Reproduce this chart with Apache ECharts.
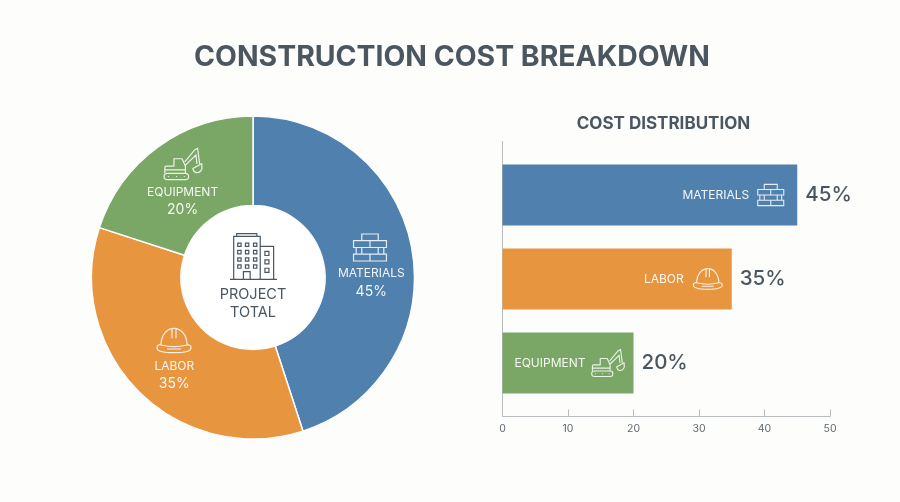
<!DOCTYPE html>
<html>
<head>
<meta charset="utf-8">
<style>
  html, body { margin: 0; padding: 0; background: #fdfdfb; }
  #chart { width: 900px; height: 502px; }
</style>
<script src="https://cdn.jsdelivr.net/npm/echarts@6/dist/echarts.min.js"></script>
</head>
<body>
<div id="chart"></div>
<script>
// Cost shares, in percent
const categories = ['MATERIALS', 'LABOR', 'EQUIPMENT'];
const shares = [45, 35, 20];
const sliceColors = ['#4f80ae', '#e8953f', '#7aa765'];
const axisTicks = [0, 10, 20, 30, 40, 50];

const INK = '#4a5660';
const LINE = '#b9bcbe';
const FONT = 'Inter, "Open Sans", sans-serif';
const ICON_STROKE = 'rgba(255,255,255,0.86)';

// Line icons, drawn as outlines in their own local units
function box(x, y, w, h) { return `M${x} ${y}H${x + w}V${y + h}H${x}Z`; }
function buildingPath() {
  let d = 'M20 8V0H80V8 M11 136V8H90V136 M90 38H130V136 M0 136H140 M40 136V113H60V136';
  [28, 50, 72, 93].forEach(y => [23, 46, 70].forEach(x => { d += ' ' + box(x, y, 10, 10); }));
  [53, 78, 103].forEach(y => { d += ' ' + box(104, y, 12, 12); });
  return d;
}
const ICONS = {
  MATERIALS: 'M25 0H75V20H25Z M0 20H100V41H0Z M50 20V41 M8 41V61 M92 41V61 M25 41V61 M75 41V61 M0 61H100V82H0Z M50 61V82',
  LABOR: 'M12 50C12 20 30 0 51 0C72 0 90 20 90 50 M0 58C0 50 8 48 12 50C35 56 67 56 90 50C96 48 102 52 102 58C102 66 92 73 51 73C10 73 0 66 0 58Z M45 3V30 M57 3V30 M30 62H72',
  EQUIPMENT: 'M10 76H64A9.5 9.5 0 0 1 64 95H10A9.5 9.5 0 0 1 10 76Z M12 85.5H15 M36 85.5H39 M59 85.5H62 M3 75V60Q3 55 8 55H30V33H54L64 55V75 M3 66H64 M62 42L92 6L100 2L106 48 M64 52L95 22L98 48 M86 62L112 48L113 62Q108 76 96 74Q88 72 86 62Z',
  BUILDING: buildingPath()
};

// Where each ring icon sits, and how big
const ringIconSpots = [
  { icon: 'MATERIALS', cx: 370, cy: 247.5, w: 33, h: 27, stroke: ICON_STROKE },
  { icon: 'LABOR', cx: 174, cy: 340.5, w: 34, h: 25, stroke: ICON_STROKE },
  { icon: 'EQUIPMENT', cx: 183, cy: 164, w: 38, h: 32, stroke: ICON_STROKE },
  { icon: 'BUILDING', cx: 253.5, cy: 256.5, w: 47, h: 46, stroke: INK }
];
// Nudges for the ring labels
const ringLabelOffsets = [[0, 8], [6, -3], [0, 4.5]];
// Bar icons, placed back from each bar's end
const barIconSpots = [
  { back: 26.5, w: 26, h: 22 },
  { back: 24, w: 29, h: 21 },
  { back: 25.5, w: 33, h: 27 }
];

function iconShape(icon, cx, cy, w, h, stroke, lineWidth) {
  return {
    type: 'path',
    shape: { pathData: ICONS[icon], x: cx - w / 2, y: cy - h / 2, width: w, height: h, layout: 'center' },
    style: { fill: 'none', stroke, lineWidth }
  };
}

const chart = echarts.init(document.getElementById('chart'), null, { renderer: 'canvas' });

chart.setOption({
  backgroundColor: '#fdfdfb',
  animation: false,
  title: [
    { text: 'CONSTRUCTION COST BREAKDOWN', left: 452, top: 43, padding: 0, textAlign: 'center',
      textStyle: { color: INK, fontFamily: FONT, fontSize: 28.4, fontWeight: 700 } },
    { text: 'COST DISTRIBUTION', left: 663.5, top: 115, padding: 0, textAlign: 'center',
      textStyle: { color: INK, fontFamily: FONT, fontSize: 17, fontWeight: 700 } },
    { text: 'PROJECT\nTOTAL', left: 253, top: 286, padding: 0, textAlign: 'center',
      textStyle: { color: INK, fontFamily: FONT, fontSize: 14.5, fontWeight: 400, lineHeight: 18 } }
  ],
  graphic: [
    { type: 'circle', z: 1, shape: { cx: 253, cy: 277.5, r: 72 }, style: { fill: '#ffffff' } }
  ],
  // Outer grid carries the visible axes; inner grid spaces the bars
  grid: [
    { left: 502.5, width: 327.5, top: 141.5, height: 275, containLabel: false },
    { left: 502.5, width: 327.5, top: 153, height: 252, containLabel: false }
  ],
  xAxis: [
    {
      gridIndex: 0, type: 'value', min: axisTicks[0], max: axisTicks[axisTicks.length - 1], interval: 10,
      splitLine: { show: false },
      axisLine: { show: true, lineStyle: { color: LINE, width: 1 } },
      axisTick: { show: true, inside: true, length: 7, lineStyle: { color: LINE, width: 1 } },
      axisLabel: { color: '#5f6a72', fontFamily: FONT, fontSize: 10.5, margin: 7 }
    },
    { gridIndex: 1, type: 'value', min: axisTicks[0], max: axisTicks[axisTicks.length - 1], show: false }
  ],
  yAxis: [
    {
      gridIndex: 0, type: 'value', min: 0, max: 1,
      splitLine: { show: false },
      axisLine: { show: true, lineStyle: { color: LINE, width: 1 } },
      axisTick: { show: false }, axisLabel: { show: false }
    },
    { gridIndex: 1, type: 'category', data: categories, inverse: true, show: false }
  ],
  series: [
    {
      type: 'pie',
      center: [253, 277.5],
      radius: [72, 161.5],
      startAngle: 90,
      clockwise: true,
      avoidLabelOverlap: false,
      silent: true,
      z: 2,
      itemStyle: { borderColor: '#fdfdfb', borderWidth: 1.5 },
      labelLine: { show: false },
      label: {
        show: true,
        position: 'inside',
        formatter: p => `{gap|}\n{name|${p.name}}\n{pct|${p.value}%}`,
        rich: {
          gap: { height: 32, lineHeight: 32, fontSize: 1 },
          name: { color: 'rgba(255,255,255,0.92)', fontFamily: FONT, fontSize: 12, lineHeight: 18 },
          pct: { color: 'rgba(255,255,255,0.92)', fontFamily: FONT, fontSize: 14, lineHeight: 18 }
        }
      },
      data: categories.map((name, i) => ({
        name, value: shares[i],
        itemStyle: { color: sliceColors[i] },
        label: { offset: ringLabelOffsets[i] }
      }))
    },
    {
      type: 'bar',
      xAxisIndex: 1,
      yAxisIndex: 1,
      barWidth: 61,
      silent: true,
      label: {
        show: true,
        position: 'insideRight',
        distance: 48,
        formatter: '{b}',
        color: 'rgba(255,255,255,0.92)',
        fontFamily: FONT,
        fontSize: 12
      },
      data: shares.map((value, i) => ({ value, itemStyle: { color: sliceColors[i] } }))
    },
    {
      // Percentage beside each bar end
      type: 'scatter',
      xAxisIndex: 1,
      yAxisIndex: 1,
      symbolSize: 0,
      silent: true,
      itemStyle: { opacity: 1 },
      label: {
        show: true,
        position: 'right',
        distance: 8,
        formatter: p => p.value[0] + '%',
        color: INK,
        opacity: 1,
        fontFamily: FONT,
        fontWeight: 500,
        fontSize: 20.5
      },
      data: shares.map((value, i) => [value, i])
    },
    {
      // Icons inside the bars
      type: 'custom',
      xAxisIndex: 1,
      yAxisIndex: 1,
      silent: true,
      z: 5,
      renderItem(params, api) {
        const i = params.dataIndex;
        const end = api.coord([api.value(0), api.value(1)]);
        const s = barIconSpots[i];
        return iconShape(categories[i], end[0] - s.back, end[1], s.w, s.h, ICON_STROKE, 1.1);
      },
      data: shares.map((value, i) => [value, i])
    },
    {
      // Icons on the ring and in its centre
      type: 'custom',
      coordinateSystem: 'none',
      silent: true,
      z: 5,
      renderItem(params) {
        const s = ringIconSpots[params.dataIndex];
        return iconShape(s.icon, s.cx, s.cy, s.w, s.h, s.stroke, 1.2);
      },
      data: ringIconSpots.map((s, i) => i)
    }
  ]
});
</script>
</body>
</html>
